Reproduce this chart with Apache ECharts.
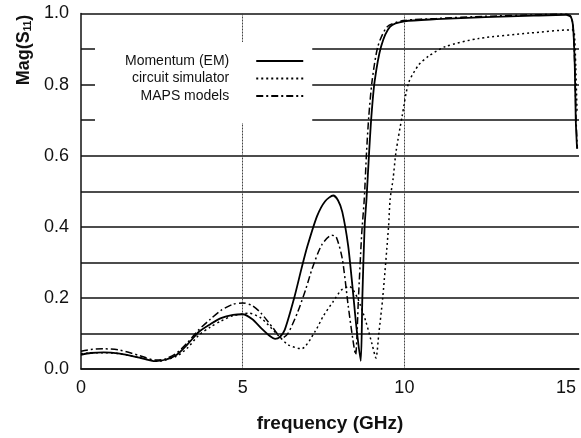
<!DOCTYPE html>
<html>
<head>
<meta charset="utf-8">
<script src="https://cdn.jsdelivr.net/npm/echarts@6/dist/echarts.min.js"></script>
<style>
  html, body { margin: 0; padding: 0; background: #fff; }
  #chart { width: 581px; height: 438px; }
</style>
</head>
<body>
<div id="chart"></div>
<script>
// frequency (GHz) and |S11|
let emFreq = [0, 0.3, 0.7, 1.2, 1.8, 2.3, 2.6, 2.96, 3.3, 3.64, 4.0, 4.33, 4.7, 5.0, 5.3, 5.57, 5.85, 6.0, 6.15, 6.3, 6.59, 6.82, 7.0, 7.3, 7.55, 7.8, 7.95, 8.08, 8.26, 8.4, 8.52, 8.65, 8.7, 8.77, 8.83, 8.91, 8.98, 9.08, 9.28, 9.56, 10.0, 11, 12.5, 14, 15.0, 15.15, 15.22, 15.27, 15.3, 15.34];
let emMag = [0.040, 0.045, 0.047, 0.043, 0.032, 0.022, 0.026, 0.040, 0.070, 0.104, 0.126, 0.143, 0.152, 0.154, 0.140, 0.115, 0.092, 0.085, 0.090, 0.110, 0.199, 0.283, 0.345, 0.430, 0.472, 0.488, 0.474, 0.442, 0.348, 0.227, 0.115, 0.023, 0.200, 0.400, 0.480, 0.610, 0.711, 0.809, 0.907, 0.963, 0.978, 0.984, 0.990, 0.994, 0.996, 0.990, 0.960, 0.850, 0.700, 0.620];

let ckFreq = [0, 0.3, 0.7, 1.2, 1.8, 2.4, 2.96, 3.3, 3.64, 4.0, 4.33, 4.7, 5.0, 5.2, 5.57, 6.04, 6.41, 6.82, 7.24, 7.5, 7.8, 8.05, 8.3, 8.55, 8.81, 9.0, 9.12, 9.21, 9.33, 9.51, 9.56, 9.65, 9.74, 9.93, 10.13, 10.44, 10.75, 11.27, 12.31, 13.88, 15.18, 15.25, 15.3, 15.34];
let ckMag = [0.043, 0.045, 0.046, 0.043, 0.032, 0.022, 0.036, 0.060, 0.095, 0.118, 0.135, 0.150, 0.155, 0.157, 0.143, 0.100, 0.068, 0.057, 0.106, 0.150, 0.190, 0.222, 0.232, 0.200, 0.133, 0.070, 0.031, 0.100, 0.200, 0.400, 0.478, 0.534, 0.610, 0.711, 0.805, 0.855, 0.880, 0.907, 0.930, 0.945, 0.954, 0.950, 0.850, 0.720];

let mapsFreq = [0, 0.3, 0.7, 1.2, 1.8, 2.3, 2.6, 2.96, 3.3, 3.64, 4.0, 4.33, 4.7, 5.0, 5.3, 5.57, 5.94, 6.22, 6.4, 6.7, 6.96, 7.15, 7.45, 7.75, 7.89, 8.08, 8.26, 8.4, 8.49, 8.58, 8.68, 8.76, 8.83, 8.9, 9.0, 9.18, 9.47, 9.97, 11, 12.5, 14, 15.0, 15.15, 15.22, 15.27, 15.31, 15.35];
let mapsMag = [0.050, 0.055, 0.057, 0.053, 0.038, 0.025, 0.028, 0.045, 0.075, 0.110, 0.140, 0.165, 0.182, 0.186, 0.178, 0.157, 0.115, 0.087, 0.100, 0.160, 0.227, 0.283, 0.350, 0.376, 0.372, 0.310, 0.180, 0.087, 0.040, 0.200, 0.380, 0.478, 0.610, 0.711, 0.809, 0.907, 0.963, 0.980, 0.986, 0.992, 0.996, 0.998, 0.992, 0.960, 0.850, 0.700, 0.620];

let names = ["Momentum (EM)", "circuit simulator", "MAPS models"];

function pairs(xs, ys) {
  return xs.map((x, i) => [x, ys[i]]);
}

let chart = echarts.init(document.getElementById("chart"));
let font = "Liberation Sans";

chart.setOption({
  animation: false,
  textStyle: { fontFamily: font },
  grid: { left: 81, right: 2, top: 13.5, bottom: 67 },
  legend: {
    data: names,
    orient: "vertical",
    align: "right",
    left: 95,
    top: 42,
    padding: [12, 8, 20, 30],
    itemGap: 3.5,
    itemWidth: 47,
    itemHeight: 14,
    backgroundColor: "#fff",
    itemStyle: { opacity: 0 },
    textStyle: { fontSize: 14, color: "#111", fontFamily: font, padding: [0, 22, 0, 0] }
  },
  xAxis: {
    type: "value",
    min: 0,
    max: 15.4,
    interval: 5,
    name: "frequency (GHz)",
    nameLocation: "middle",
    nameGap: 45,
    nameTextStyle: { fontSize: 19, fontWeight: "bold", color: "#111", fontFamily: font },
    axisLine: { lineStyle: { color: "#111", width: 1.5 } },
    axisTick: { show: false },
    axisLabel: { fontSize: 18, color: "#111", margin: 10, showMaxLabel: false, fontFamily: font },
    splitLine: {
      show: true,
      lineStyle: { color: ["rgba(0,0,0,0)", "#444", "#444", "rgba(0,0,0,0)", "rgba(0,0,0,0)"], width: 1, type: [2, 1] }
    }
  },
  yAxis: {
    type: "value",
    min: 0,
    max: 1,
    interval: 0.1,
    axisLine: { show: true, lineStyle: { color: "#111", width: 1.5 } },
    axisTick: { show: false },
    axisLabel: {
      fontSize: 18,
      color: "#111",
      margin: 12,
      fontFamily: font,
      formatter: (v) => (Math.round(v * 10) % 2 === 0 ? v.toFixed(1) : "")
    },
    splitLine: { show: true, lineStyle: { color: "#111", width: 1.5 } }
  },
  graphic: [
    {
      type: "text",
      x: 24,
      y: 50,
      rotation: Math.PI / 2,
      style: {
        text: "{a|Mag(S}{b|11}{a|)}",
        align: "center",
        verticalAlign: "middle",
        fill: "#111",
        rich: {
          a: { fontSize: 18, fontWeight: "bold", fontFamily: font, fill: "#111" },
          b: { fontSize: 10, fontWeight: "bold", fontFamily: font, fill: "#111", padding: [8, 0, 0, 0] }
        }
      }
    }
  ],
  series: [
    {
      name: names[0],
      type: "line",
      data: pairs(emFreq, emMag),
      symbol: "none",
      smooth: 0.25,
      lineStyle: { color: "#000", width: 1.8, type: "solid" },
      itemStyle: { color: "#000" }
    },
    {
      name: names[1],
      type: "line",
      data: pairs(ckFreq, ckMag),
      symbol: "none",
      smooth: 0.25,
      lineStyle: { color: "#000", width: 1.5, type: [2, 3] },
      itemStyle: { color: "#000" }
    },
    {
      name: names[2],
      type: "line",
      data: pairs(mapsFreq, mapsMag),
      symbol: "none",
      smooth: 0.25,
      lineStyle: { color: "#000", width: 1.5, type: [7, 3, 2, 3] },
      itemStyle: { color: "#000" }
    }
  ]
});
</script>
</body>
</html>
